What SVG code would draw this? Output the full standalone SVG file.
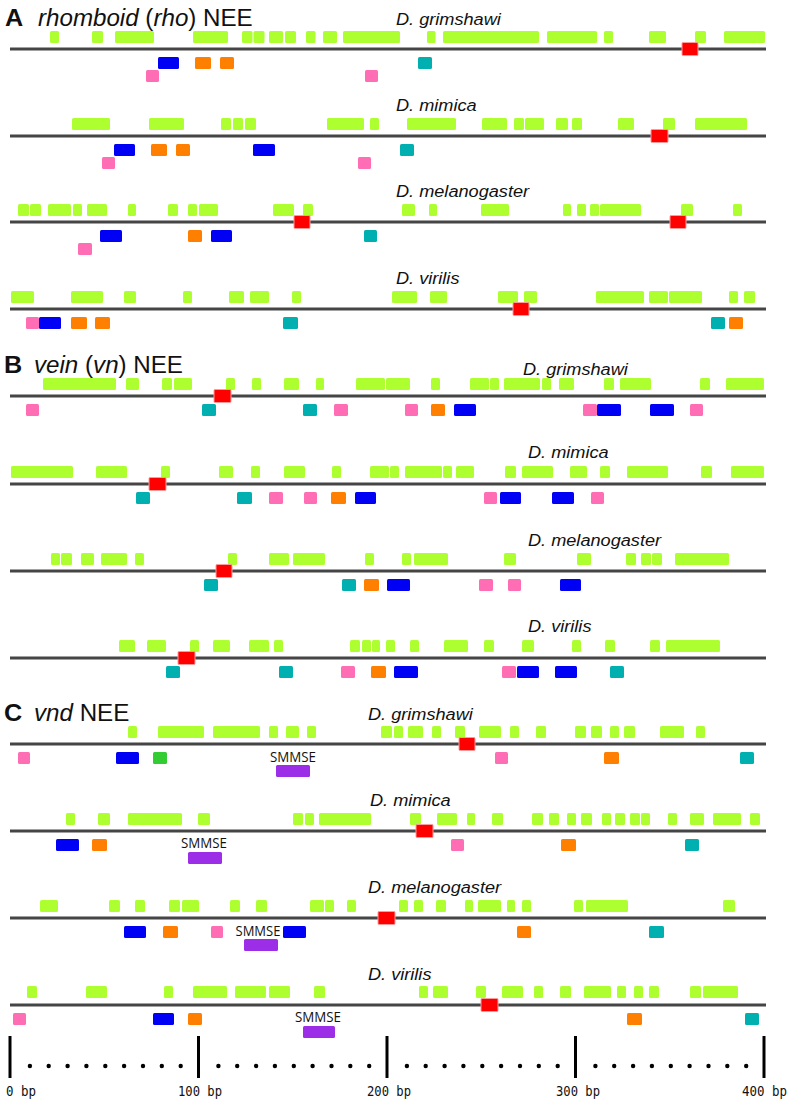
<svg xmlns="http://www.w3.org/2000/svg" width="792" height="1104" viewBox="0 0 792 1104">
<style>
.ln{stroke:#454545;stroke-width:3}
.g{fill:#adff2f}
.r{fill:#ff0000;stroke:#ff9a9a;stroke-width:1}
.b{fill:#0000f5}
.o{fill:#ff8000}
.t{fill:#00b0b0}
.p{fill:#ff6eb4}
.dg{fill:#33cc33}
.pu{fill:#9d2ee8}
.sp{font-family:"Liberation Sans",Arial,sans-serif;font-style:italic;font-size:16.5px;fill:#111}
.ti{font-family:"Liberation Sans",Arial,sans-serif;font-size:23px;fill:#111}
.tl{font-family:"Liberation Sans",Arial,sans-serif;font-size:24px;font-weight:bold;fill:#111}
.sm{font-family:"Open Sans","Liberation Sans",sans-serif;font-size:14px;fill:#111}
.ax{font-family:"DejaVu Sans Mono","Liberation Mono",monospace;font-size:13.5px;fill:#111}
.tk{stroke:#000;stroke-width:3}
</style>
<g id="titles">
<text class="tl" transform="translate(5,26) scale(1.05,1)">A</text>
<text class="ti" transform="translate(38,26) scale(1.05,1)"><tspan font-style="italic">rhomboid</tspan> (<tspan font-style="italic">rho</tspan>) NEE</text>
<text class="tl" transform="translate(4,373) scale(1.05,1)">B</text>
<text class="ti" transform="translate(34,373) scale(1.05,1)"><tspan font-style="italic">vein</tspan> (<tspan font-style="italic">vn</tspan>) NEE</text>
<text class="tl" transform="translate(4,721) scale(1.05,1)">C</text>
<text class="ti" transform="translate(34,721) scale(1.05,1)"><tspan font-style="italic">vnd</tspan> NEE</text>
</g>

<g id="a-grimshawi" transform="translate(0,49)">
<text class="sp" transform="translate(396,-24) scale(1.1,1)">D. grimshawi</text>
<rect class="g" x="50" y="-18" width="9" height="12" rx="1.5"/>
<rect class="g" x="92" y="-18" width="11" height="12" rx="1.5"/>
<rect class="g" x="115" y="-18" width="39" height="12" rx="1.5"/>
<rect class="g" x="193" y="-18" width="35" height="12" rx="1.5"/>
<rect class="g" x="242" y="-18" width="10.5" height="12" rx="1.5"/>
<rect class="g" x="253.5" y="-18" width="11" height="12" rx="1.5"/>
<rect class="g" x="269" y="-18" width="14" height="12" rx="1.5"/>
<rect class="g" x="285" y="-18" width="11" height="12" rx="1.5"/>
<rect class="g" x="306" y="-18" width="9.5" height="12" rx="1.5"/>
<rect class="g" x="323" y="-18" width="14" height="12" rx="1.5"/>
<rect class="g" x="343" y="-18" width="57" height="12" rx="1.5"/>
<rect class="g" x="427" y="-18" width="8.5" height="12" rx="1.5"/>
<rect class="g" x="443" y="-18" width="96" height="12" rx="1.5"/>
<rect class="g" x="547" y="-18" width="50" height="12" rx="1.5"/>
<rect class="g" x="604" y="-18" width="9" height="12" rx="1.5"/>
<rect class="g" x="649" y="-18" width="17" height="12" rx="1.5"/>
<rect class="g" x="695" y="-18" width="11" height="12" rx="1.5"/>
<rect class="g" x="724" y="-18" width="41" height="12" rx="1.5"/>
<line class="ln" x1="10" y1="0" x2="766" y2="0"/>
<rect class="r" x="682" y="-6.5" width="16" height="13" rx="1"/>
<rect class="b" x="158" y="8" width="21" height="12" rx="1.5"/>
<rect class="o" x="195" y="8" width="16" height="12" rx="1.5"/>
<rect class="o" x="220" y="8" width="14" height="12" rx="1.5"/>
<rect class="t" x="418" y="8" width="14" height="12" rx="1.5"/>
<rect class="p" x="146" y="21" width="13" height="12" rx="1.5"/>
<rect class="p" x="365" y="21" width="13" height="12" rx="1.5"/>
</g>

<g id="a-mimica" transform="translate(0,136)">
<text class="sp" transform="translate(396,-25) scale(1.1,1)">D. mimica</text>
<rect class="g" x="72" y="-18" width="38" height="12" rx="1.5"/>
<rect class="g" x="149" y="-18" width="35" height="12" rx="1.5"/>
<rect class="g" x="221" y="-18" width="10" height="12" rx="1.5"/>
<rect class="g" x="233" y="-18" width="10" height="12" rx="1.5"/>
<rect class="g" x="245" y="-18" width="11" height="12" rx="1.5"/>
<rect class="g" x="327" y="-18" width="37" height="12" rx="1.5"/>
<rect class="g" x="370" y="-18" width="9" height="12" rx="1.5"/>
<rect class="g" x="407" y="-18" width="49" height="12" rx="1.5"/>
<rect class="g" x="482" y="-18" width="25" height="12" rx="1.5"/>
<rect class="g" x="514" y="-18" width="10" height="12" rx="1.5"/>
<rect class="g" x="525" y="-18" width="19" height="12" rx="1.5"/>
<rect class="g" x="556" y="-18" width="12" height="12" rx="1.5"/>
<rect class="g" x="572" y="-18" width="10" height="12" rx="1.5"/>
<rect class="g" x="618" y="-18" width="16" height="12" rx="1.5"/>
<rect class="g" x="663" y="-18" width="12" height="12" rx="1.5"/>
<rect class="g" x="695" y="-18" width="52" height="12" rx="1.5"/>
<line class="ln" x1="10" y1="0" x2="766" y2="0"/>
<rect class="r" x="651" y="-6.5" width="17" height="13" rx="1"/>
<rect class="b" x="114" y="8" width="21" height="12" rx="1.5"/>
<rect class="o" x="151" y="8" width="16" height="12" rx="1.5"/>
<rect class="o" x="176" y="8" width="14" height="12" rx="1.5"/>
<rect class="b" x="253" y="8" width="22" height="12" rx="1.5"/>
<rect class="t" x="400" y="8" width="14" height="12" rx="1.5"/>
<rect class="p" x="102" y="21" width="13" height="12" rx="1.5"/>
<rect class="p" x="358" y="21" width="13" height="12" rx="1.5"/>
</g>

<g id="a-melanogaster" transform="translate(0,222)">
<text class="sp" transform="translate(396,-25) scale(1.1,1)">D. melanogaster</text>
<rect class="g" x="18" y="-18" width="11" height="12" rx="1.5"/>
<rect class="g" x="30" y="-18" width="11" height="12" rx="1.5"/>
<rect class="g" x="48" y="-18" width="23" height="12" rx="1.5"/>
<rect class="g" x="73" y="-18" width="9" height="12" rx="1.5"/>
<rect class="g" x="87" y="-18" width="20" height="12" rx="1.5"/>
<rect class="g" x="128" y="-18" width="8" height="12" rx="1.5"/>
<rect class="g" x="168" y="-18" width="10" height="12" rx="1.5"/>
<rect class="g" x="188" y="-18" width="9" height="12" rx="1.5"/>
<rect class="g" x="199" y="-18" width="19" height="12" rx="1.5"/>
<rect class="g" x="273" y="-18" width="21" height="12" rx="1.5"/>
<rect class="g" x="303" y="-18" width="10" height="12" rx="1.5"/>
<rect class="g" x="402" y="-18" width="13" height="12" rx="1.5"/>
<rect class="g" x="429" y="-18" width="8" height="12" rx="1.5"/>
<rect class="g" x="481" y="-18" width="28" height="12" rx="1.5"/>
<rect class="g" x="563" y="-18" width="8" height="12" rx="1.5"/>
<rect class="g" x="577" y="-18" width="9" height="12" rx="1.5"/>
<rect class="g" x="590" y="-18" width="9" height="12" rx="1.5"/>
<rect class="g" x="600" y="-18" width="41" height="12" rx="1.5"/>
<rect class="g" x="681" y="-18" width="12" height="12" rx="1.5"/>
<rect class="g" x="733" y="-18" width="9" height="12" rx="1.5"/>
<line class="ln" x1="10" y1="0" x2="766" y2="0"/>
<rect class="r" x="294" y="-6.5" width="16" height="13" rx="1"/>
<rect class="r" x="670" y="-6.5" width="16" height="13" rx="1"/>
<rect class="b" x="100" y="8" width="22" height="12" rx="1.5"/>
<rect class="o" x="188" y="8" width="14" height="12" rx="1.5"/>
<rect class="b" x="211" y="8" width="21" height="12" rx="1.5"/>
<rect class="t" x="364" y="8" width="13" height="12" rx="1.5"/>
<rect class="p" x="78" y="21" width="14" height="12" rx="1.5"/>
</g>

<g id="a-virilis" transform="translate(0,309)">
<text class="sp" transform="translate(396,-25) scale(1.1,1)">D. virilis</text>
<rect class="g" x="11" y="-18" width="23" height="12" rx="1.5"/>
<rect class="g" x="71" y="-18" width="32" height="12" rx="1.5"/>
<rect class="g" x="124" y="-18" width="12" height="12" rx="1.5"/>
<rect class="g" x="183" y="-18" width="9" height="12" rx="1.5"/>
<rect class="g" x="229" y="-18" width="15" height="12" rx="1.5"/>
<rect class="g" x="250" y="-18" width="19" height="12" rx="1.5"/>
<rect class="g" x="292" y="-18" width="9" height="12" rx="1.5"/>
<rect class="g" x="392" y="-18" width="25" height="12" rx="1.5"/>
<rect class="g" x="430" y="-18" width="17" height="12" rx="1.5"/>
<rect class="g" x="498" y="-18" width="20" height="12" rx="1.5"/>
<rect class="g" x="524" y="-18" width="13" height="12" rx="1.5"/>
<rect class="g" x="596" y="-18" width="48" height="12" rx="1.5"/>
<rect class="g" x="649" y="-18" width="19" height="12" rx="1.5"/>
<rect class="g" x="669" y="-18" width="33" height="12" rx="1.5"/>
<rect class="g" x="729" y="-18" width="9" height="12" rx="1.5"/>
<rect class="g" x="744" y="-18" width="11" height="12" rx="1.5"/>
<line class="ln" x1="10" y1="0" x2="766" y2="0"/>
<rect class="r" x="513" y="-6.5" width="16" height="13" rx="1"/>
<rect class="p" x="26" y="8" width="13" height="12" rx="1.5"/>
<rect class="b" x="39" y="8" width="22" height="12" rx="1.5"/>
<rect class="o" x="71" y="8" width="16" height="12" rx="1.5"/>
<rect class="o" x="95" y="8" width="15" height="12" rx="1.5"/>
<rect class="t" x="283" y="8" width="15" height="12" rx="1.5"/>
<rect class="t" x="711" y="8" width="14" height="12" rx="1.5"/>
<rect class="o" x="729" y="8" width="14" height="12" rx="1.5"/>
</g>

<g id="b-grimshawi" transform="translate(0,396)">
<text class="sp" transform="translate(523,-21) scale(1.1,1)">D. grimshawi</text>
<rect class="g" x="43" y="-18" width="73" height="12" rx="1.5"/>
<rect class="g" x="126" y="-18" width="13" height="12" rx="1.5"/>
<rect class="g" x="162" y="-18" width="10" height="12" rx="1.5"/>
<rect class="g" x="174" y="-18" width="18" height="12" rx="1.5"/>
<rect class="g" x="226" y="-18" width="9" height="12" rx="1.5"/>
<rect class="g" x="252" y="-18" width="9" height="12" rx="1.5"/>
<rect class="g" x="284" y="-18" width="15" height="12" rx="1.5"/>
<rect class="g" x="316" y="-18" width="8" height="12" rx="1.5"/>
<rect class="g" x="356" y="-18" width="29" height="12" rx="1.5"/>
<rect class="g" x="386" y="-18" width="24" height="12" rx="1.5"/>
<rect class="g" x="431" y="-18" width="9" height="12" rx="1.5"/>
<rect class="g" x="470" y="-18" width="19" height="12" rx="1.5"/>
<rect class="g" x="490" y="-18" width="9" height="12" rx="1.5"/>
<rect class="g" x="504" y="-18" width="36" height="12" rx="1.5"/>
<rect class="g" x="542" y="-18" width="9" height="12" rx="1.5"/>
<rect class="g" x="559" y="-18" width="15" height="12" rx="1.5"/>
<rect class="g" x="604" y="-18" width="10" height="12" rx="1.5"/>
<rect class="g" x="620" y="-18" width="31" height="12" rx="1.5"/>
<rect class="g" x="700" y="-18" width="10" height="12" rx="1.5"/>
<rect class="g" x="726" y="-18" width="38" height="12" rx="1.5"/>
<line class="ln" x1="10" y1="0" x2="766" y2="0"/>
<rect class="r" x="214" y="-6.5" width="17" height="13" rx="1"/>
<rect class="p" x="26" y="8" width="13" height="12" rx="1.5"/>
<rect class="t" x="202" y="8" width="14" height="12" rx="1.5"/>
<rect class="t" x="303" y="8" width="14" height="12" rx="1.5"/>
<rect class="p" x="334" y="8" width="14" height="12" rx="1.5"/>
<rect class="p" x="405" y="8" width="13" height="12" rx="1.5"/>
<rect class="o" x="431" y="8" width="14" height="12" rx="1.5"/>
<rect class="b" x="454" y="8" width="22" height="12" rx="1.5"/>
<rect class="p" x="583" y="8" width="14" height="12" rx="1.5"/>
<rect class="b" x="597" y="8" width="24" height="12" rx="1.5"/>
<rect class="b" x="650" y="8" width="24" height="12" rx="1.5"/>
<rect class="p" x="690" y="8" width="13" height="12" rx="1.5"/>
</g>

<g id="b-mimica" transform="translate(0,484)">
<text class="sp" transform="translate(528,-26) scale(1.1,1)">D. mimica</text>
<rect class="g" x="11" y="-18" width="62" height="12" rx="1.5"/>
<rect class="g" x="96" y="-18" width="31" height="12" rx="1.5"/>
<rect class="g" x="161" y="-18" width="9" height="12" rx="1.5"/>
<rect class="g" x="219" y="-18" width="14" height="12" rx="1.5"/>
<rect class="g" x="251" y="-18" width="9" height="12" rx="1.5"/>
<rect class="g" x="284" y="-18" width="21" height="12" rx="1.5"/>
<rect class="g" x="332" y="-18" width="9" height="12" rx="1.5"/>
<rect class="g" x="370" y="-18" width="19" height="12" rx="1.5"/>
<rect class="g" x="390" y="-18" width="9" height="12" rx="1.5"/>
<rect class="g" x="405" y="-18" width="37" height="12" rx="1.5"/>
<rect class="g" x="443" y="-18" width="9" height="12" rx="1.5"/>
<rect class="g" x="456" y="-18" width="18" height="12" rx="1.5"/>
<rect class="g" x="505" y="-18" width="11" height="12" rx="1.5"/>
<rect class="g" x="522" y="-18" width="31" height="12" rx="1.5"/>
<rect class="g" x="570" y="-18" width="17" height="12" rx="1.5"/>
<rect class="g" x="600" y="-18" width="10" height="12" rx="1.5"/>
<rect class="g" x="627" y="-18" width="41" height="12" rx="1.5"/>
<rect class="g" x="701" y="-18" width="11" height="12" rx="1.5"/>
<rect class="g" x="731" y="-18" width="33" height="12" rx="1.5"/>
<line class="ln" x1="10" y1="0" x2="766" y2="0"/>
<rect class="r" x="149" y="-6.5" width="17" height="13" rx="1"/>
<rect class="t" x="136" y="8" width="14" height="12" rx="1.5"/>
<rect class="t" x="237" y="8" width="15" height="12" rx="1.5"/>
<rect class="p" x="269" y="8" width="14" height="12" rx="1.5"/>
<rect class="p" x="304" y="8" width="13" height="12" rx="1.5"/>
<rect class="o" x="331" y="8" width="15" height="12" rx="1.5"/>
<rect class="b" x="355" y="8" width="21" height="12" rx="1.5"/>
<rect class="p" x="484" y="8" width="13" height="12" rx="1.5"/>
<rect class="b" x="500" y="8" width="21" height="12" rx="1.5"/>
<rect class="b" x="552" y="8" width="22" height="12" rx="1.5"/>
<rect class="p" x="591" y="8" width="13" height="12" rx="1.5"/>
</g>

<g id="b-melanogaster" transform="translate(0,571)">
<text class="sp" transform="translate(528,-25) scale(1.1,1)">D. melanogaster</text>
<rect class="g" x="51" y="-18" width="9" height="12" rx="1.5"/>
<rect class="g" x="61" y="-18" width="11" height="12" rx="1.5"/>
<rect class="g" x="81" y="-18" width="13" height="12" rx="1.5"/>
<rect class="g" x="101" y="-18" width="26" height="12" rx="1.5"/>
<rect class="g" x="135" y="-18" width="9" height="12" rx="1.5"/>
<rect class="g" x="228" y="-18" width="9" height="12" rx="1.5"/>
<rect class="g" x="269" y="-18" width="20" height="12" rx="1.5"/>
<rect class="g" x="293" y="-18" width="32" height="12" rx="1.5"/>
<rect class="g" x="365" y="-18" width="9" height="12" rx="1.5"/>
<rect class="g" x="402" y="-18" width="9" height="12" rx="1.5"/>
<rect class="g" x="414" y="-18" width="34" height="12" rx="1.5"/>
<rect class="g" x="504" y="-18" width="12" height="12" rx="1.5"/>
<rect class="g" x="577" y="-18" width="14" height="12" rx="1.5"/>
<rect class="g" x="626" y="-18" width="10" height="12" rx="1.5"/>
<rect class="g" x="641" y="-18" width="10" height="12" rx="1.5"/>
<rect class="g" x="652" y="-18" width="10" height="12" rx="1.5"/>
<rect class="g" x="675" y="-18" width="54" height="12" rx="1.5"/>
<line class="ln" x1="10" y1="0" x2="766" y2="0"/>
<rect class="r" x="216" y="-6.5" width="16" height="13" rx="1"/>
<rect class="t" x="204" y="8" width="14" height="12" rx="1.5"/>
<rect class="t" x="342" y="8" width="14" height="12" rx="1.5"/>
<rect class="o" x="364" y="8" width="15" height="12" rx="1.5"/>
<rect class="b" x="387" y="8" width="23" height="12" rx="1.5"/>
<rect class="p" x="479" y="8" width="14" height="12" rx="1.5"/>
<rect class="p" x="508" y="8" width="13" height="12" rx="1.5"/>
<rect class="b" x="560" y="8" width="21" height="12" rx="1.5"/>
</g>

<g id="b-virilis" transform="translate(0,658)">
<text class="sp" transform="translate(528,-26) scale(1.1,1)">D. virilis</text>
<rect class="g" x="119" y="-18" width="16" height="12" rx="1.5"/>
<rect class="g" x="147" y="-18" width="19" height="12" rx="1.5"/>
<rect class="g" x="190" y="-18" width="9" height="12" rx="1.5"/>
<rect class="g" x="213" y="-18" width="17" height="12" rx="1.5"/>
<rect class="g" x="249" y="-18" width="20" height="12" rx="1.5"/>
<rect class="g" x="274" y="-18" width="9" height="12" rx="1.5"/>
<rect class="g" x="350" y="-18" width="10" height="12" rx="1.5"/>
<rect class="g" x="362" y="-18" width="9" height="12" rx="1.5"/>
<rect class="g" x="372" y="-18" width="8" height="12" rx="1.5"/>
<rect class="g" x="386" y="-18" width="9" height="12" rx="1.5"/>
<rect class="g" x="410" y="-18" width="9" height="12" rx="1.5"/>
<rect class="g" x="444" y="-18" width="24" height="12" rx="1.5"/>
<rect class="g" x="484" y="-18" width="10" height="12" rx="1.5"/>
<rect class="g" x="522" y="-18" width="12" height="12" rx="1.5"/>
<rect class="g" x="572" y="-18" width="9" height="12" rx="1.5"/>
<rect class="g" x="605" y="-18" width="10" height="12" rx="1.5"/>
<rect class="g" x="650" y="-18" width="10" height="12" rx="1.5"/>
<rect class="g" x="666" y="-18" width="54" height="12" rx="1.5"/>
<line class="ln" x1="10" y1="0" x2="766" y2="0"/>
<rect class="r" x="178" y="-6.5" width="17" height="13" rx="1"/>
<rect class="t" x="166" y="8" width="14" height="12" rx="1.5"/>
<rect class="t" x="279" y="8" width="14" height="12" rx="1.5"/>
<rect class="p" x="341" y="8" width="14" height="12" rx="1.5"/>
<rect class="o" x="371" y="8" width="15" height="12" rx="1.5"/>
<rect class="b" x="394" y="8" width="24" height="12" rx="1.5"/>
<rect class="p" x="502" y="8" width="14" height="12" rx="1.5"/>
<rect class="b" x="517" y="8" width="22" height="12" rx="1.5"/>
<rect class="b" x="555" y="8" width="22" height="12" rx="1.5"/>
<rect class="t" x="610" y="8" width="14" height="12" rx="1.5"/>
</g>

<g id="c-grimshawi" transform="translate(0,744)">
<text class="sp" transform="translate(368,-24) scale(1.1,1)">D. grimshawi</text>
<rect class="g" x="128" y="-18" width="9" height="12" rx="1.5"/>
<rect class="g" x="158" y="-18" width="46" height="12" rx="1.5"/>
<rect class="g" x="213" y="-18" width="47" height="12" rx="1.5"/>
<rect class="g" x="269" y="-18" width="9" height="12" rx="1.5"/>
<rect class="g" x="286" y="-18" width="13" height="12" rx="1.5"/>
<rect class="g" x="307" y="-18" width="9" height="12" rx="1.5"/>
<rect class="g" x="381" y="-18" width="11" height="12" rx="1.5"/>
<rect class="g" x="394" y="-18" width="9" height="12" rx="1.5"/>
<rect class="g" x="408" y="-18" width="15" height="12" rx="1.5"/>
<rect class="g" x="432" y="-18" width="9" height="12" rx="1.5"/>
<rect class="g" x="455" y="-18" width="10" height="12" rx="1.5"/>
<rect class="g" x="479" y="-18" width="22" height="12" rx="1.5"/>
<rect class="g" x="510" y="-18" width="9" height="12" rx="1.5"/>
<rect class="g" x="536" y="-18" width="10" height="12" rx="1.5"/>
<rect class="g" x="575" y="-18" width="11" height="12" rx="1.5"/>
<rect class="g" x="591" y="-18" width="11" height="12" rx="1.5"/>
<rect class="g" x="610" y="-18" width="9" height="12" rx="1.5"/>
<rect class="g" x="624" y="-18" width="11" height="12" rx="1.5"/>
<rect class="g" x="660" y="-18" width="24" height="12" rx="1.5"/>
<rect class="g" x="696" y="-18" width="9" height="12" rx="1.5"/>
<line class="ln" x1="10" y1="0" x2="766" y2="0"/>
<rect class="r" x="459" y="-6.5" width="16" height="13" rx="1"/>
<rect class="p" x="18" y="8" width="12" height="12" rx="1.5"/>
<rect class="b" x="116" y="8" width="23" height="12" rx="1.5"/>
<rect class="dg" x="153" y="8" width="14" height="12" rx="1.5"/>
<rect class="p" x="495" y="8" width="13" height="12" rx="1.5"/>
<rect class="o" x="604" y="8" width="15" height="12" rx="1.5"/>
<rect class="t" x="740" y="8" width="14" height="12" rx="1.5"/>
<text class="sm" x="293" y="18" text-anchor="middle" textLength="46" lengthAdjust="spacingAndGlyphs">SMMSE</text>
<rect class="pu" x="276" y="21" width="34" height="12" rx="1.5"/>
</g>

<g id="c-mimica" transform="translate(0,831)">
<text class="sp" transform="translate(370,-25) scale(1.1,1)">D. mimica</text>
<rect class="g" x="66" y="-18" width="9" height="12" rx="1.5"/>
<rect class="g" x="98" y="-18" width="12" height="12" rx="1.5"/>
<rect class="g" x="128" y="-18" width="54" height="12" rx="1.5"/>
<rect class="g" x="198" y="-18" width="12" height="12" rx="1.5"/>
<rect class="g" x="293" y="-18" width="10" height="12" rx="1.5"/>
<rect class="g" x="305" y="-18" width="9" height="12" rx="1.5"/>
<rect class="g" x="319" y="-18" width="52" height="12" rx="1.5"/>
<rect class="g" x="410" y="-18" width="11" height="12" rx="1.5"/>
<rect class="g" x="437" y="-18" width="20" height="12" rx="1.5"/>
<rect class="g" x="467" y="-18" width="8" height="12" rx="1.5"/>
<rect class="g" x="492" y="-18" width="11" height="12" rx="1.5"/>
<rect class="g" x="532" y="-18" width="11" height="12" rx="1.5"/>
<rect class="g" x="549" y="-18" width="10" height="12" rx="1.5"/>
<rect class="g" x="567" y="-18" width="9" height="12" rx="1.5"/>
<rect class="g" x="581" y="-18" width="11" height="12" rx="1.5"/>
<rect class="g" x="602" y="-18" width="9" height="12" rx="1.5"/>
<rect class="g" x="615" y="-18" width="10" height="12" rx="1.5"/>
<rect class="g" x="630" y="-18" width="10" height="12" rx="1.5"/>
<rect class="g" x="641" y="-18" width="9" height="12" rx="1.5"/>
<rect class="g" x="668" y="-18" width="9" height="12" rx="1.5"/>
<rect class="g" x="690" y="-18" width="14" height="12" rx="1.5"/>
<rect class="g" x="713" y="-18" width="28" height="12" rx="1.5"/>
<rect class="g" x="750" y="-18" width="10" height="12" rx="1.5"/>
<line class="ln" x1="10" y1="0" x2="766" y2="0"/>
<rect class="r" x="416" y="-6.5" width="17" height="13" rx="1"/>
<rect class="b" x="56" y="8" width="23" height="12" rx="1.5"/>
<rect class="o" x="92" y="8" width="15" height="12" rx="1.5"/>
<rect class="p" x="451" y="8" width="13" height="12" rx="1.5"/>
<rect class="o" x="561" y="8" width="15" height="12" rx="1.5"/>
<rect class="t" x="685" y="8" width="14" height="12" rx="1.5"/>
<text class="sm" x="204" y="17" text-anchor="middle" textLength="46" lengthAdjust="spacingAndGlyphs">SMMSE</text>
<rect class="pu" x="188" y="21" width="34" height="12" rx="1.5"/>
</g>

<g id="c-melanogaster" transform="translate(0,918)">
<text class="sp" transform="translate(368,-25) scale(1.1,1)">D. melanogaster</text>
<rect class="g" x="40" y="-18" width="18" height="12" rx="1.5"/>
<rect class="g" x="109" y="-18" width="11" height="12" rx="1.5"/>
<rect class="g" x="135" y="-18" width="10" height="12" rx="1.5"/>
<rect class="g" x="169" y="-18" width="11" height="12" rx="1.5"/>
<rect class="g" x="182" y="-18" width="17" height="12" rx="1.5"/>
<rect class="g" x="230" y="-18" width="10" height="12" rx="1.5"/>
<rect class="g" x="256" y="-18" width="11" height="12" rx="1.5"/>
<rect class="g" x="310" y="-18" width="14" height="12" rx="1.5"/>
<rect class="g" x="325" y="-18" width="9" height="12" rx="1.5"/>
<rect class="g" x="347" y="-18" width="9" height="12" rx="1.5"/>
<rect class="g" x="399" y="-18" width="9" height="12" rx="1.5"/>
<rect class="g" x="414" y="-18" width="9" height="12" rx="1.5"/>
<rect class="g" x="436" y="-18" width="10" height="12" rx="1.5"/>
<rect class="g" x="465" y="-18" width="8" height="12" rx="1.5"/>
<rect class="g" x="478" y="-18" width="23" height="12" rx="1.5"/>
<rect class="g" x="507" y="-18" width="8" height="12" rx="1.5"/>
<rect class="g" x="522" y="-18" width="9" height="12" rx="1.5"/>
<rect class="g" x="574" y="-18" width="9" height="12" rx="1.5"/>
<rect class="g" x="586" y="-18" width="42" height="12" rx="1.5"/>
<rect class="g" x="723" y="-18" width="12" height="12" rx="1.5"/>
<line class="ln" x1="10" y1="0" x2="766" y2="0"/>
<rect class="r" x="378" y="-6.5" width="17" height="13" rx="1"/>
<rect class="b" x="124" y="8" width="22" height="12" rx="1.5"/>
<rect class="o" x="163" y="8" width="15" height="12" rx="1.5"/>
<rect class="p" x="211" y="8" width="12" height="12" rx="1.5"/>
<rect class="b" x="283" y="8" width="23" height="12" rx="1.5"/>
<rect class="o" x="517" y="8" width="14" height="12" rx="1.5"/>
<rect class="t" x="649" y="8" width="15" height="12" rx="1.5"/>
<text class="sm" x="258" y="18" text-anchor="middle" textLength="45" lengthAdjust="spacingAndGlyphs">SMMSE</text>
<rect class="pu" x="244" y="21" width="34" height="12" rx="1.5"/>
</g>

<g id="c-virilis" transform="translate(0,1005)">
<text class="sp" transform="translate(368,-25) scale(1.1,1)">D. virilis</text>
<rect class="g" x="27" y="-19" width="10" height="12" rx="1.5"/>
<rect class="g" x="86" y="-19" width="21" height="12" rx="1.5"/>
<rect class="g" x="164" y="-19" width="9" height="12" rx="1.5"/>
<rect class="g" x="193" y="-19" width="34" height="12" rx="1.5"/>
<rect class="g" x="235" y="-19" width="31" height="12" rx="1.5"/>
<rect class="g" x="269" y="-19" width="21" height="12" rx="1.5"/>
<rect class="g" x="314" y="-19" width="11" height="12" rx="1.5"/>
<rect class="g" x="419" y="-19" width="9" height="12" rx="1.5"/>
<rect class="g" x="433" y="-19" width="15" height="12" rx="1.5"/>
<rect class="g" x="476" y="-19" width="10" height="12" rx="1.5"/>
<rect class="g" x="502" y="-19" width="21" height="12" rx="1.5"/>
<rect class="g" x="534" y="-19" width="9" height="12" rx="1.5"/>
<rect class="g" x="560" y="-19" width="11" height="12" rx="1.5"/>
<rect class="g" x="584" y="-19" width="27" height="12" rx="1.5"/>
<rect class="g" x="617" y="-19" width="9" height="12" rx="1.5"/>
<rect class="g" x="634" y="-19" width="9" height="12" rx="1.5"/>
<rect class="g" x="649" y="-19" width="10" height="12" rx="1.5"/>
<rect class="g" x="690" y="-19" width="11" height="12" rx="1.5"/>
<rect class="g" x="703" y="-19" width="35" height="12" rx="1.5"/>
<line class="ln" x1="10" y1="0" x2="766" y2="0"/>
<rect class="r" x="481" y="-6.5" width="17" height="13" rx="1"/>
<rect class="p" x="13" y="8" width="13" height="12" rx="1.5"/>
<rect class="b" x="153" y="8" width="21" height="12" rx="1.5"/>
<rect class="o" x="188" y="8" width="14" height="12" rx="1.5"/>
<rect class="o" x="627" y="8" width="15" height="12" rx="1.5"/>
<rect class="t" x="745" y="8" width="14" height="12" rx="1.5"/>
<text class="sm" x="318" y="17" text-anchor="middle" textLength="46" lengthAdjust="spacingAndGlyphs">SMMSE</text>
<rect class="pu" x="303" y="21" width="32" height="12" rx="1.5"/>
</g>

<g id="axis">
<line class="tk" x1="10" y1="1036" x2="10" y2="1078"/>
<line class="tk" x1="198.5" y1="1036" x2="198.5" y2="1078"/>
<line class="tk" x1="387" y1="1036" x2="387" y2="1078"/>
<line class="tk" x1="575.5" y1="1036" x2="575.5" y2="1078"/>
<line class="tk" x1="764" y1="1036" x2="764" y2="1078"/>
<g fill="#000">
<circle cx="29.9" cy="1066" r="2.2"/><circle cx="48.7" cy="1066" r="2.2"/><circle cx="67.6" cy="1066" r="2.2"/><circle cx="86.4" cy="1066" r="2.2"/><circle cx="105.3" cy="1066" r="2.2"/><circle cx="124.1" cy="1066" r="2.2"/><circle cx="143" cy="1066" r="2.2"/><circle cx="161.8" cy="1066" r="2.2"/><circle cx="180.7" cy="1066" r="2.2"/>
<circle cx="218.4" cy="1066" r="2.2"/><circle cx="237.2" cy="1066" r="2.2"/><circle cx="256.1" cy="1066" r="2.2"/><circle cx="274.9" cy="1066" r="2.2"/><circle cx="293.8" cy="1066" r="2.2"/><circle cx="312.6" cy="1066" r="2.2"/><circle cx="331.5" cy="1066" r="2.2"/><circle cx="350.3" cy="1066" r="2.2"/><circle cx="369.2" cy="1066" r="2.2"/>
<circle cx="406.9" cy="1066" r="2.2"/><circle cx="425.7" cy="1066" r="2.2"/><circle cx="444.6" cy="1066" r="2.2"/><circle cx="463.4" cy="1066" r="2.2"/><circle cx="482.3" cy="1066" r="2.2"/><circle cx="501.1" cy="1066" r="2.2"/><circle cx="520" cy="1066" r="2.2"/><circle cx="538.8" cy="1066" r="2.2"/><circle cx="557.7" cy="1066" r="2.2"/>
<circle cx="595.4" cy="1066" r="2.2"/><circle cx="614.2" cy="1066" r="2.2"/><circle cx="633.1" cy="1066" r="2.2"/><circle cx="651.9" cy="1066" r="2.2"/><circle cx="670.8" cy="1066" r="2.2"/><circle cx="689.6" cy="1066" r="2.2"/><circle cx="708.5" cy="1066" r="2.2"/><circle cx="727.3" cy="1066" r="2.2"/><circle cx="746.2" cy="1066" r="2.2"/>
</g>
<text class="ax" x="6" y="1096" textLength="30" lengthAdjust="spacingAndGlyphs">0 bp</text>
<text class="ax" x="178" y="1096" textLength="44" lengthAdjust="spacingAndGlyphs">100 bp</text>
<text class="ax" x="367" y="1096" textLength="44" lengthAdjust="spacingAndGlyphs">200 bp</text>
<text class="ax" x="556" y="1096" textLength="44" lengthAdjust="spacingAndGlyphs">300 bp</text>
<text class="ax" x="742" y="1096" textLength="45" lengthAdjust="spacingAndGlyphs">400 bp</text>
</g>
</svg>
